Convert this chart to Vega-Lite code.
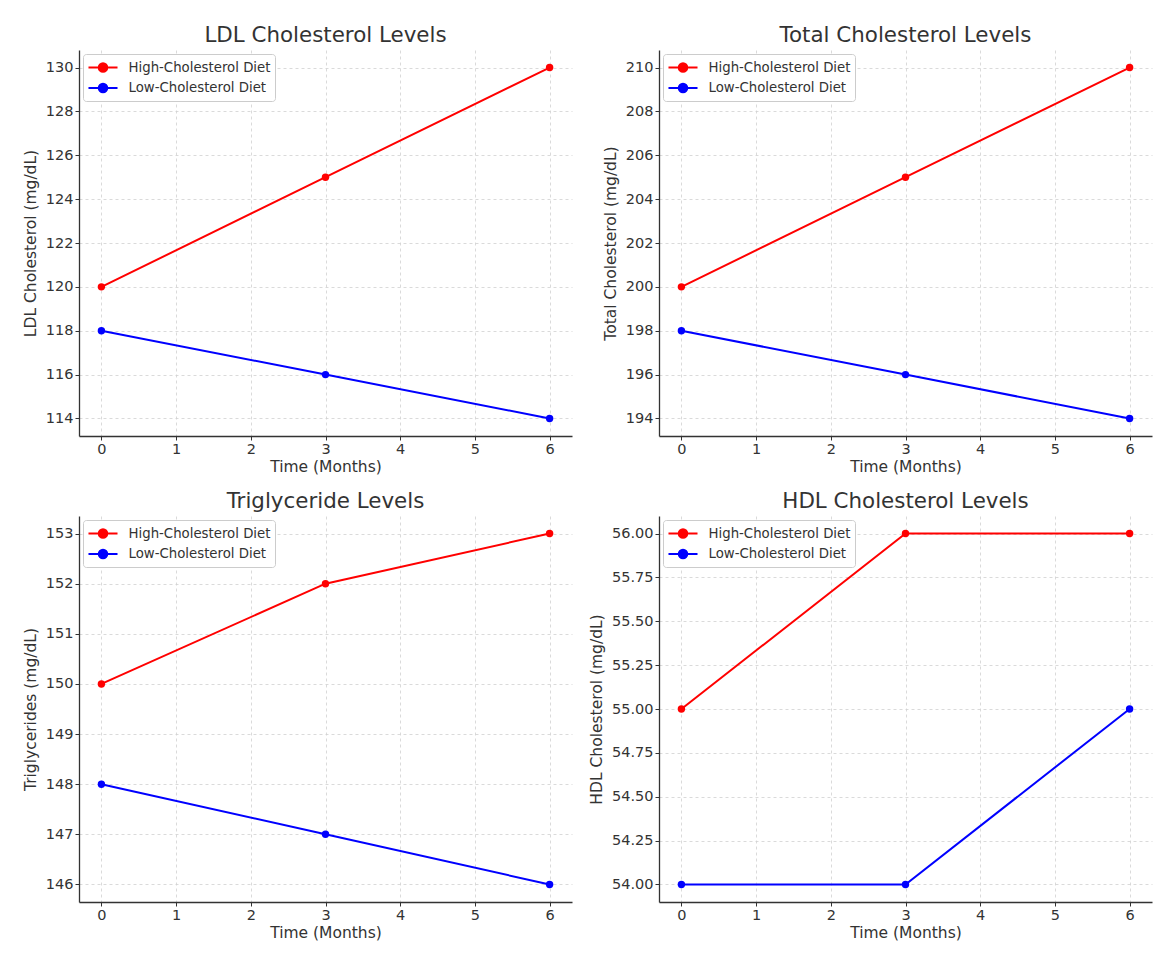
{
  "$schema": "https://vega.github.io/schema/vega-lite/v6.json",
  "background": "white",
  "padding": {"left": 23, "top": 24, "right": 5, "bottom": 5},
  "datasets": {
    "lipids": [
      {"metric": "LDL", "diet": "High-Cholesterol Diet", "month": 0, "value": 120},
      {"metric": "LDL", "diet": "High-Cholesterol Diet", "month": 3, "value": 125},
      {"metric": "LDL", "diet": "High-Cholesterol Diet", "month": 6, "value": 130},
      {"metric": "LDL", "diet": "Low-Cholesterol Diet", "month": 0, "value": 118},
      {"metric": "LDL", "diet": "Low-Cholesterol Diet", "month": 3, "value": 116},
      {"metric": "LDL", "diet": "Low-Cholesterol Diet", "month": 6, "value": 114},
      {"metric": "Total", "diet": "High-Cholesterol Diet", "month": 0, "value": 200},
      {"metric": "Total", "diet": "High-Cholesterol Diet", "month": 3, "value": 205},
      {"metric": "Total", "diet": "High-Cholesterol Diet", "month": 6, "value": 210},
      {"metric": "Total", "diet": "Low-Cholesterol Diet", "month": 0, "value": 198},
      {"metric": "Total", "diet": "Low-Cholesterol Diet", "month": 3, "value": 196},
      {"metric": "Total", "diet": "Low-Cholesterol Diet", "month": 6, "value": 194},
      {"metric": "Trig", "diet": "High-Cholesterol Diet", "month": 0, "value": 150},
      {"metric": "Trig", "diet": "High-Cholesterol Diet", "month": 3, "value": 152},
      {"metric": "Trig", "diet": "High-Cholesterol Diet", "month": 6, "value": 153},
      {"metric": "Trig", "diet": "Low-Cholesterol Diet", "month": 0, "value": 148},
      {"metric": "Trig", "diet": "Low-Cholesterol Diet", "month": 3, "value": 147},
      {"metric": "Trig", "diet": "Low-Cholesterol Diet", "month": 6, "value": 146},
      {"metric": "HDL", "diet": "High-Cholesterol Diet", "month": 0, "value": 55},
      {"metric": "HDL", "diet": "High-Cholesterol Diet", "month": 3, "value": 56},
      {"metric": "HDL", "diet": "High-Cholesterol Diet", "month": 6, "value": 56},
      {"metric": "HDL", "diet": "Low-Cholesterol Diet", "month": 0, "value": 54},
      {"metric": "HDL", "diet": "Low-Cholesterol Diet", "month": 3, "value": 54},
      {"metric": "HDL", "diet": "Low-Cholesterol Diet", "month": 6, "value": 55}
    ]
  },
  "data": {"name": "lipids"},
  "columns": 2,
  "spacing": {"row": 15, "column": 17},
  "resolve": {"scale": {"y": "independent", "x": "independent", "color": "independent"}, "legend": {"color": "independent"}},
  "concat": [
    {
      "width": 493, "height": 386,
      "title": {"text": "LDL Cholesterol Levels"},
      "transform": [{"filter": "datum.metric === 'LDL'"}],
      "encoding": {
        "x": {"field": "month", "type": "quantitative", "scale": {"domain": [-0.3, 6.3], "nice": false, "zero": false}, "axis": {"values": [0,1,2,3,4,5,6], "title": "Time (Months)", "format": "d"}},
        "y": {"field": "value", "type": "quantitative", "scale": {"domain": [113.2, 130.8], "nice": false, "zero": false}, "axis": {"values": [114,116,118,120,122,124,126,128,130], "title": "LDL Cholesterol (mg/dL)", "format": "d"}},
        "color": {"field": "diet", "type": "nominal", "scale": {"domain": ["High-Cholesterol Diet", "Low-Cholesterol Diet"], "range": ["#ff0000", "#0000ff"]}, "legend": {"title": null}}
      },
      "layer": [
        {"mark": {"type": "line", "strokeWidth": 2}},
        {"mark": {"type": "point", "filled": true, "size": 55, "opacity": 1}}
      ]
    },
    {
      "width": 493, "height": 386,
      "title": {"text": "Total Cholesterol Levels"},
      "transform": [{"filter": "datum.metric === 'Total'"}],
      "encoding": {
        "x": {"field": "month", "type": "quantitative", "scale": {"domain": [-0.3, 6.3], "nice": false, "zero": false}, "axis": {"values": [0,1,2,3,4,5,6], "title": "Time (Months)", "format": "d"}},
        "y": {"field": "value", "type": "quantitative", "scale": {"domain": [193.2, 210.8], "nice": false, "zero": false}, "axis": {"values": [194,196,198,200,202,204,206,208,210], "title": "Total Cholesterol (mg/dL)", "format": "d"}},
        "color": {"field": "diet", "type": "nominal", "scale": {"domain": ["High-Cholesterol Diet", "Low-Cholesterol Diet"], "range": ["#ff0000", "#0000ff"]}, "legend": {"title": null}}
      },
      "layer": [
        {"mark": {"type": "line", "strokeWidth": 2}},
        {"mark": {"type": "point", "filled": true, "size": 55, "opacity": 1}}
      ]
    },
    {
      "width": 493, "height": 386,
      "title": {"text": "Triglyceride Levels"},
      "transform": [{"filter": "datum.metric === 'Trig'"}],
      "encoding": {
        "x": {"field": "month", "type": "quantitative", "scale": {"domain": [-0.3, 6.3], "nice": false, "zero": false}, "axis": {"values": [0,1,2,3,4,5,6], "title": "Time (Months)", "format": "d"}},
        "y": {"field": "value", "type": "quantitative", "scale": {"domain": [145.65, 153.35], "nice": false, "zero": false}, "axis": {"values": [146,147,148,149,150,151,152,153], "title": "Triglycerides (mg/dL)", "format": "d"}},
        "color": {"field": "diet", "type": "nominal", "scale": {"domain": ["High-Cholesterol Diet", "Low-Cholesterol Diet"], "range": ["#ff0000", "#0000ff"]}, "legend": {"title": null}}
      },
      "layer": [
        {"mark": {"type": "line", "strokeWidth": 2}},
        {"mark": {"type": "point", "filled": true, "size": 55, "opacity": 1}}
      ]
    },
    {
      "width": 493, "height": 386,
      "title": {"text": "HDL Cholesterol Levels"},
      "transform": [{"filter": "datum.metric === 'HDL'"}],
      "encoding": {
        "x": {"field": "month", "type": "quantitative", "scale": {"domain": [-0.3, 6.3], "nice": false, "zero": false}, "axis": {"values": [0,1,2,3,4,5,6], "title": "Time (Months)", "format": "d"}},
        "y": {"field": "value", "type": "quantitative", "scale": {"domain": [53.9, 56.1], "nice": false, "zero": false}, "axis": {"values": [54,54.25,54.5,54.75,55,55.25,55.5,55.75,56], "title": "HDL Cholesterol (mg/dL)", "format": ".2f"}},
        "color": {"field": "diet", "type": "nominal", "scale": {"domain": ["High-Cholesterol Diet", "Low-Cholesterol Diet"], "range": ["#ff0000", "#0000ff"]}, "legend": {"title": null}}
      },
      "layer": [
        {"mark": {"type": "line", "strokeWidth": 2}},
        {"mark": {"type": "point", "filled": true, "size": 55, "opacity": 1}}
      ]
    }
  ],
  "config": {
    "font": "DejaVu Sans",
    "view": {"stroke": null},
    "title": {"fontSize": 21.4, "fontWeight": "normal", "color": "#333333", "font": "DejaVu Sans", "offset": 4, "anchor": "middle"},
    "axis": {
      "domainColor": "#333333", "domainWidth": 1.3,
      "tickColor": "#333333", "tickSize": 4, "tickWidth": 1,
      "labelFont": "DejaVu Sans", "labelFontSize": 14.5, "labelColor": "#333333", "labelPadding": 2,
      "titleFont": "DejaVu Sans", "titleFontSize": 15.5, "titleFontWeight": "normal", "titleColor": "#333333",
      "gridColor": "#d0d0d0", "gridDash": [3, 3], "gridWidth": 0.8
    },
    "axisY": {"titlePadding": 7},
    "axisX": {"titlePadding": 4},
    "legend": {
      "orient": "top-left", "offset": 4,
      "fillColor": "white", "strokeColor": "#cccccc", "cornerRadius": 3, "padding": 4,
      "labelFont": "DejaVu Sans", "labelFontSize": 13.3, "labelColor": "#333333",
      "symbolType": "M-1.8,0H1.8M0.53,0A0.53,0.53 0 1,1 -0.53,0A0.53,0.53 0 1,1 0.53,0",
      "symbolSize": 260, "symbolStrokeWidth": 2, "symbolOffset": 6.5, "rowPadding": 2.6, "labelOffset": 16
    }
  }
}
